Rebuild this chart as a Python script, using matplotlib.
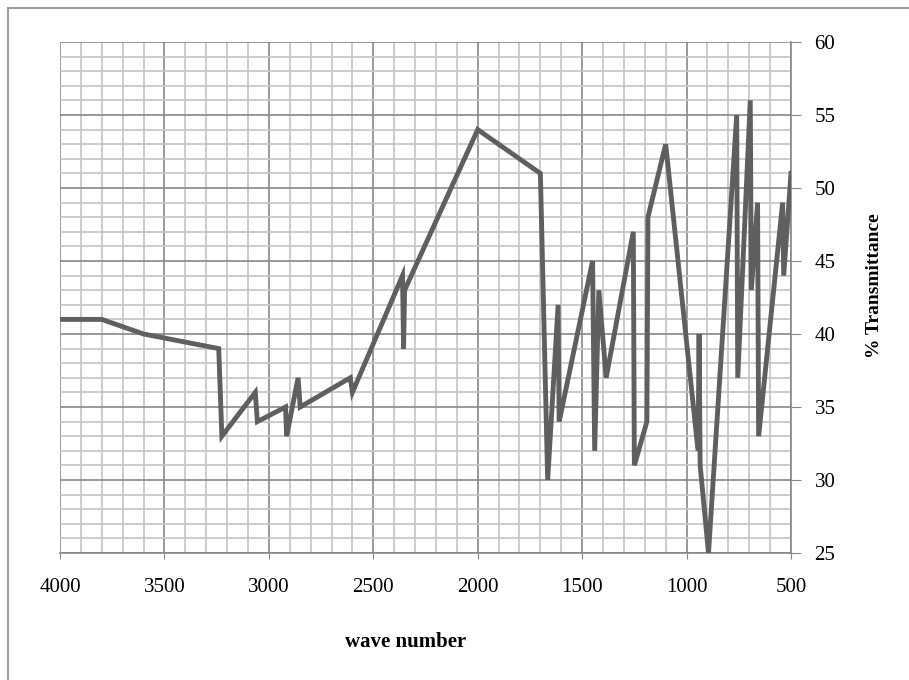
import matplotlib.pyplot as plt
from matplotlib.ticker import MultipleLocator
from matplotlib.lines import Line2D

# IR spectrum
wavenumber = [4000, 3800, 3600, 3240, 3225, 3065, 3055, 2920, 2915, 2860, 2850,
              2610, 2600, 2360, 2355, 2350, 2000, 1700, 1665, 1615, 1610, 1450,
              1440, 1420, 1385, 1255, 1250, 1190, 1185, 1100, 945, 940, 935, 895,
              760, 755, 695, 690, 660, 655, 540, 535, 500]
transmittance = [41, 41, 40, 39, 33, 36, 34, 35, 33, 37, 35,
                 37, 36, 44, 39, 43, 54, 51, 30, 42, 34, 45,
                 32, 43, 37, 47, 31, 34, 48, 53, 32, 40, 31, 25,
                 55, 37, 56, 43, 49, 33, 49, 44, 51]

W, H = 909, 680
fig = plt.figure(figsize=(W / 100, H / 100), dpi=100)
ax = fig.add_axes([60 / W, 1 - 553 / H, (791 - 60) / W, (553 - 42) / H])

ax.plot(wavenumber, transmittance, color='#5f5f5f', lw=3.5,
        solid_joinstyle='miter', zorder=3)

ax.set_xlim(4000, 500)
ax.set_ylim(25, 60)
ax.xaxis.set_major_locator(MultipleLocator(500))
ax.xaxis.set_minor_locator(MultipleLocator(100))
ax.yaxis.set_major_locator(MultipleLocator(5))
ax.yaxis.set_minor_locator(MultipleLocator(1))
ax.grid(which='minor', color='#c4c4c4', lw=1.2)
ax.grid(which='major', color='#878787', lw=1.2)
ax.set_axisbelow(True)

ax.yaxis.tick_right()
ax.yaxis.set_label_position('right')
for s in ['top', 'left']:
    ax.spines[s].set_visible(False)
for s in ['bottom', 'right']:
    ax.spines[s].set_color('#878787')
    ax.spines[s].set_linewidth(1.2)

ax.tick_params(which='minor', length=0)
ax.tick_params(axis='x', which='major', length=4, color='#878787', pad=14)
ax.tick_params(axis='y', which='major', length=7, color='#878787', pad=10)
for lab in ax.get_xticklabels() + ax.get_yticklabels():
    lab.set_fontfamily('Liberation Serif')
    lab.set_fontsize(15)

ax.set_xlabel('wave number', fontfamily='Liberation Serif', fontsize=15,
              fontweight='bold')
ax.xaxis.set_label_coords(0.473, -0.155)
ax.set_ylabel('% Transmittance', fontfamily='Liberation Serif', fontsize=14,
              fontweight='bold')
ax.yaxis.set_label_coords(1.103, 0.524)

# outer chart frame (left and top edges visible)
fig.add_artist(Line2D([8 / W, 8 / W], [0, 1 - 8 / H], color='#8a8a8a', lw=1.2))
fig.add_artist(Line2D([8 / W, 1], [1 - 8 / H, 1 - 8 / H], color='#8a8a8a', lw=1.2))

fig.savefig('out.png', dpi=100)
